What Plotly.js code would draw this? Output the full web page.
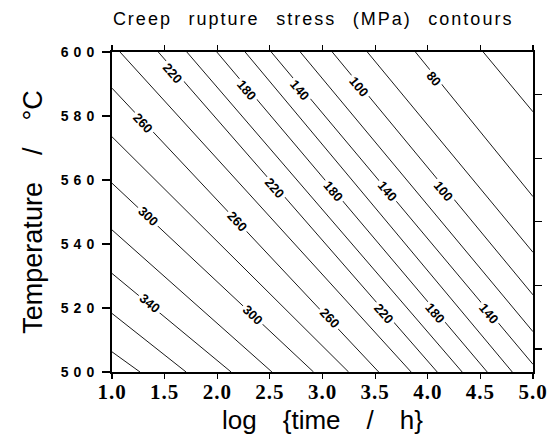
<!DOCTYPE html>
<html>
<head>
<meta charset="utf-8">
<script src="https://cdn.plot.ly/plotly-3.0.1.min.js"></script>
<style>
html,body{margin:0;padding:0;background:#fff}
#chart{width:548px;height:445px}
#chart .gtitle{letter-spacing:2px}
#chart .xtick text{letter-spacing:1px}
#chart .ytick text{letter-spacing:5px}
</style>
</head>
<body>
<div id="chart"></div>
<script>
// Contour levels (MPa) and where each contour line enters / leaves the frame
const levels     = [380, 360, 340, 320, 300, 280, 260, 240, 220, 200, 180, 160, 140, 120, 100, 80, 60, 40];
const lineStartX = [1.0, 1.0, 1.0, 1.0, 1.0, 1.0, 1.0, 1.076, 1.44, 1.711, 1.996, 2.265, 2.513, 2.789, 3.093, 3.426, 3.883, 4.527];
const lineStartT = [506.3, 518.3, 530.8, 544.4, 559.0, 573.5, 588.7, 600, 600, 600, 600, 600, 600, 600, 600, 600, 600, 600];
const lineEndX   = [1.266, 1.704, 2.132, 2.52, 2.915, 3.248, 3.534, 3.842, 4.09, 4.327, 4.565, 4.803, 5.0, 5.0, 5.0, 5.0, 5.0, 5.0];
const lineEndT   = [500, 500, 500, 500, 500, 500, 500, 500, 500, 500, 500, 500, 502.4, 512.6, 524.1, 537.4, 554.8, 581.3];

// Contour labels: printed text, line they sit on, and position
const labelTexts  = ['220','180','140','100','80','260','220','180','140','100','300','260','340','300','260','220','180','140'];
const labelLevels = [220, 180, 140, 100, 60, 260, 220, 180, 140, 100, 300, 260, 340, 300, 260, 220, 180, 140];
const labelX      = [1.580, 2.284, 2.789, 3.343, 4.057, 1.298, 2.551, 3.103, 3.617, 4.149, 1.345, 2.189, 1.362, 2.344, 3.074, 3.581, 4.073, 4.580];
const labelT      = [593.4, 588.1, 588.1, 589.2, 591.8, 577.7, 557.5, 556.3, 556.3, 556.3, 548.5, 546.9, 521.5, 517.8, 516.8, 518.3, 518.3, 518.3];

// Axis ticks
const xTickVals  = [1.0, 1.5, 2.0, 2.5, 3.0, 3.5, 4.0, 4.5, 5.0];
const xTickText  = ['1.0','1.5','2.0','2.5','3.0','3.5','4.0','4.5','5.0'];
const yTickVals  = [500, 520, 540, 560, 580, 600];
const yTickText  = ['500','520','540','560','580','600'];
const yRightTicks = [507.2, 527, 547, 566.8, 586.6];

const W = 548, H = 445;
const M = {l: 112, r: 15, t: 52, b: 73};
const plotW = W - M.l - M.r, plotH = H - M.t - M.b;
const xRange = [1, 5], yRange = [500, 600];

const traces = levels.map((lv, i) => ({
  type: 'scatter', mode: 'lines', name: lv + ' MPa',
  x: [lineStartX[i], lineEndX[i]],
  y: [lineStartT[i], lineEndT[i]],
  line: {color: '#1a1a1a', width: 1},
  hoverinfo: 'skip', showlegend: false
}));
// invisible trace on right axis so its ticks are drawn
traces.push({type: 'scatter', mode: 'none', x: [1, 5], y: [500, 600], yaxis: 'y2', showlegend: false, hoverinfo: 'skip'});

const annotations = labelTexts.map((t, i) => {
  const k = levels.indexOf(labelLevels[i]);
  const dxp = (lineEndX[k] - lineStartX[k]) * plotW / (xRange[1] - xRange[0]);
  const dyp = (lineStartT[k] - lineEndT[k]) * plotH / (yRange[1] - yRange[0]);
  const ang = Math.atan2(dyp, dxp) * 180 / Math.PI;
  return {
    x: labelX[i], y: labelT[i], xref: 'x', yref: 'y', text: t, showarrow: false,
    textangle: ang, bgcolor: '#fff', borderpad: 2,
    font: {family: 'Liberation Sans, Arial, sans-serif', size: 13, color: '#000', weight: 'bold'}
  };
});

const layout = {
  width: W, height: H, margin: M,
  paper_bgcolor: '#fff', plot_bgcolor: '#fff',
  title: {
    text: 'Creep\u2002\u2009rupture\u2002\u2009stress\u2002\u2009(MPa)\u2002\u2009contours',
    x: 0.206, xref: 'container', xanchor: 'left', y: 0.958, yanchor: 'middle',
    font: {family: 'Liberation Sans, Arial, sans-serif', size: 18, color: '#000'}
  },
  xaxis: {
    range: xRange, tickvals: xTickVals, ticktext: xTickText,
    ticks: 'outside', ticklen: 5, tickwidth: 1.2, tickcolor: '#000',
    showline: true, linecolor: '#000', linewidth: 2, mirror: 'ticks',
    showgrid: false, zeroline: false, ticklabelstandoff: -5,
    tickfont: {family: 'Liberation Serif, Times New Roman, serif', size: 21, color: '#000', weight: 'bold'},
    title: {text: 'log\u2003{time\u2003/\u2003h}', standoff: 8,
      font: {family: 'Liberation Sans, Arial, sans-serif', size: 26, color: '#000'}}
  },
  yaxis: {
    range: yRange, tickvals: yTickVals, ticktext: yTickText,
    ticks: 'outside', ticklen: 8, tickwidth: 1.2, tickcolor: '#000',
    showline: true, linecolor: '#000', linewidth: 2, mirror: true,
    showgrid: false, zeroline: false, ticklabelstandoff: 0,
    tickfont: {family: 'Liberation Sans, Arial, sans-serif', size: 14, color: '#000', weight: 'bold'},
    title: {text: 'Temperature\u2003/\u2003°C\u2003', standoff: 25,
      font: {family: 'Liberation Sans, Arial, sans-serif', size: 27, color: '#000'}}
  },
  yaxis2: {
    overlaying: 'y', side: 'right', range: yRange, tickvals: yRightTicks,
    showticklabels: false, ticks: 'outside', ticklen: 8, tickwidth: 1.2, tickcolor: '#000',
    showgrid: false, zeroline: false, showline: false
  },
  annotations: annotations,
  showlegend: false
};

Plotly.newPlot('chart', traces, layout, {staticPlot: true, displayModeBar: false});
</script>
</body>
</html>
